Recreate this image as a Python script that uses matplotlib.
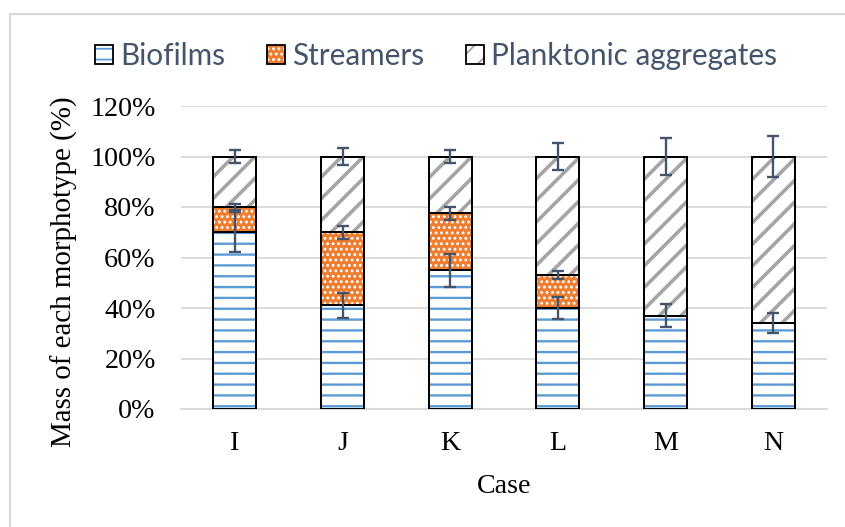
import matplotlib
matplotlib.use("Agg")
import matplotlib.pyplot as plt
from matplotlib.patches import Patch, Rectangle
import numpy as np

# ---- data ----
cases = ["I", "J", "K", "L", "M", "N"]
biofilms = [70, 41, 55, 40, 37, 34]
streamers = [10, 29, 22.5, 13, 0, 0]
planktonic = [100 - b - s for b, s in zip(biofilms, streamers)]
biofilms_err = [8, 5, 6.5, 4.5, 4.5, 4]
streamers_err = [1.3, 2.5, 2.5, 1.5, 0, 0]
planktonic_err = [2.5, 3.5, 2.7, 5.5, 7.5, 8]
yticks = [0, 20, 40, 60, 80, 100, 120]
ytick_labels = ["0%", "20%", "40%", "60%", "80%", "100%", "120%"]

DPI = 130
fig = plt.figure(figsize=(845 / DPI, 527 / DPI), dpi=DPI)
ax = fig.add_axes([181 / 845, 1 - 409 / 527, (827 - 181) / 845, (409 - 106) / 527])

x = np.arange(len(cases))
width = 0.4

styles = [
    dict(face="white", hatchc="#5B9BD5", hatch="--", hlw=1.3),
    dict(face="#ED7D31", hatchc="white", hatch="....", hlw=1.0),
    dict(face="white", hatchc="#A5A5A5", hatch="//", hlw=2.0),
]
series = [biofilms, streamers, planktonic]
names = ["Biofilms", "Streamers", "Planktonic aggregates"]

bottom = np.zeros(len(cases))
handles = []
for vals, st, nm in zip(series, styles, names):
    vals = np.array(vals, dtype=float)
    bars = ax.bar(x, vals, width, bottom=bottom, color=st["face"], edgecolor=st["hatchc"],
                  hatch=st["hatch"], linewidth=0, zorder=2)
    for b in bars:
        if hasattr(b, "set_hatch_linewidth"):
            b.set_hatch_linewidth(st["hlw"])
    ax.bar(x, vals, width, bottom=bottom, fill=False, edgecolor="black", linewidth=1.1, zorder=3)
    hp = Patch(facecolor=st["face"], edgecolor=st["hatchc"], hatch=st["hatch"], linewidth=0)
    if hasattr(hp, "set_hatch_linewidth"):
        hp.set_hatch_linewidth(st["hlw"])
    op = Patch(facecolor="none", edgecolor="black", linewidth=1.0)
    handles.append((hp, op))
    bottom = bottom + vals

# error bars at cumulative tops
tops = np.cumsum(np.array(series, dtype=float), axis=0)
errs = [biofilms_err, streamers_err, planktonic_err]
for top, err in zip(tops, errs):
    err = np.array(err, dtype=float)
    m = err > 0
    ax.errorbar(x[m], top[m], yerr=err[m], fmt="none", ecolor="#44546A",
                elinewidth=1.3, capsize=3.5, capthick=1.3, zorder=4)

ax.set_xlim(-0.5, len(cases) - 0.5)
ax.set_ylim(0, 120)
ax.set_yticks(yticks)
ax.set_yticklabels(ytick_labels)
ax.set_xticks(x)
ax.set_xticklabels(cases)
ax.yaxis.grid(True, color="#D9D9D9", linewidth=1.0)
ax.set_axisbelow(True)
for s in ["top", "right", "left"]:
    ax.spines[s].set_visible(False)
ax.spines["bottom"].set_color("#D9D9D9")
ax.spines["bottom"].set_linewidth(1.0)
ax.tick_params(length=0, labelsize=15.5)
ax.tick_params(axis="y", pad=14)
ax.tick_params(axis="x", pad=12)
for lab in ax.get_xticklabels() + ax.get_yticklabels():
    lab.set_fontfamily("Liberation Serif")

ax.set_ylabel("Mass of each morphotype (%)", fontfamily="Liberation Serif", fontsize=16.1)
ax.yaxis.label.set_verticalalignment("center")
ax.yaxis.label.set_horizontalalignment("center")
ax.yaxis.set_label_coords((64 - 181) / 646, (409 - 272) / 303)
ax.set_xlabel("Case", fontfamily="Liberation Serif", fontsize=15.5, labelpad=10)

leg = fig.legend(handles, names, loc="center", bbox_to_anchor=(436 / 845, 1 - 56 / 527),
                 ncol=3, frameon=False, handlelength=0.6, handleheight=0.6,
                 handletextpad=0.25, columnspacing=1.4, prop={"family": "Lato", "size": 16.5})
for t in leg.get_texts():
    t.set_color("#44546A")

fig.patches.append(Rectangle((10 / 845, -0.1), 1.2, 1 - 14 / 527 + 0.1, transform=fig.transFigure,
                             fill=False, edgecolor="#D9D9D9", linewidth=1.2))

fig.savefig("out.png", dpi=DPI)
